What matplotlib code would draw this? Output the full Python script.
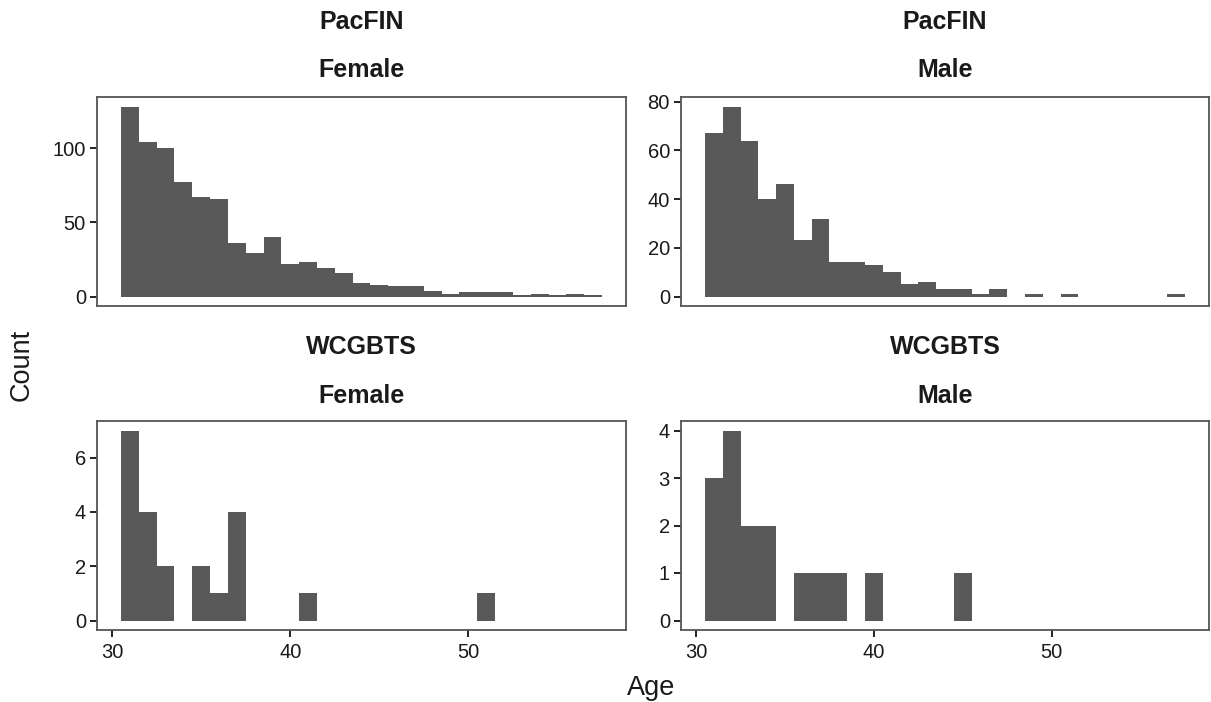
import matplotlib
matplotlib.use("Agg")
import matplotlib.pyplot as plt

plt.rcParams['font.family'] = ['Liberation Sans', 'DejaVu Sans']

ages = list(range(31, 58))
pacfin_female = [128, 104, 100, 77, 67, 66, 36, 29, 40, 22, 23, 19, 16, 9, 8, 7, 7, 4, 2, 3, 3, 3, 1, 2, 1, 2, 1]
pacfin_male = [67, 78, 64, 40, 46, 23, 32, 14, 14, 13, 10, 5, 6, 3, 3, 1, 3, 0, 1, 0, 1, 0, 0, 0, 0, 0, 1]
wcgbts_female = [7, 4, 2, 0, 2, 1, 4, 0, 0, 0, 1, 0, 0, 0, 0, 0, 0, 0, 0, 0, 1, 0, 0, 0, 0, 0, 0]
wcgbts_male = [3, 4, 2, 2, 0, 1, 1, 1, 0, 1, 0, 0, 0, 0, 1, 0, 0, 0, 0, 0, 0, 0, 0, 0, 0, 0, 0]

fleets = ["PacFIN", "PacFIN", "WCGBTS", "WCGBTS"]
sexes = ["Female", "Male", "Female", "Male"]
series = [pacfin_female, pacfin_male, wcgbts_female, wcgbts_male]
yticks = [[0, 50, 100], [0, 20, 40, 60, 80], [0, 2, 4, 6], [0, 1, 2, 3, 4]]
xticks = [30, 40, 50]

W, H = 1211, 702
fig = plt.figure(figsize=(W / 100, H / 100), dpi=100)

# pixel boxes: (left, top, right, bottom)
boxes = [(97, 97, 626, 306), (681, 97, 1209, 306),
         (97, 421, 626, 630), (681, 421, 1209, 630)]

bar_color = '#595959'
text_color = '#1a1a1a'
xmin, xmax = 30.5, 57.5
xpad = 0.05 * (xmax - xmin)

for i, (l, t, r, b) in enumerate(boxes):
    ax = fig.add_axes([l / W, 1 - b / H, (r - l) / W, (b - t) / H])
    vals = series[i]
    ax.bar(ages, vals, width=1.0, color=bar_color, linewidth=0, align='center')
    ymax = max(vals)
    ax.set_ylim(-0.05 * ymax, 1.05 * ymax)
    ax.set_xlim(xmin - xpad, xmax + xpad)
    ax.set_yticks(yticks[i])
    ax.tick_params(axis='y', direction='out', length=5, width=1.3, color='#111111',
                   labelsize=14.5, labelcolor=text_color, pad=3)
    if i >= 2:
        ax.set_xticks(xticks)
        ax.tick_params(axis='x', direction='out', length=5, width=1.3, color='#111111',
                       labelsize=14.5, labelcolor=text_color, pad=4)
    else:
        ax.set_xticks([])
    for s in ax.spines.values():
        s.set_color('#555555')
        s.set_linewidth(1.3)
    cx = (l + r) / 2 / W
    ytop = 22 if i < 2 else 347
    ysub = 70 if i < 2 else 396
    fig.text(cx, 1 - ytop / H, fleets[i], ha='center', va='center',
             fontsize=18, fontweight='bold', color=text_color)
    fig.text(cx, 1 - ysub / H, sexes[i], ha='center', va='center',
             fontsize=18, fontweight='bold', color=text_color)

fig.text(651 / W, 1 - 688 / H, "Age", ha='center', va='center', fontsize=19.5, color=text_color)
fig.text(22 / W, 1 - 365 / H, "Count", ha='center', va='center', rotation=90,
         fontsize=19.5, color=text_color)

fig.savefig("out.png", dpi=100)
